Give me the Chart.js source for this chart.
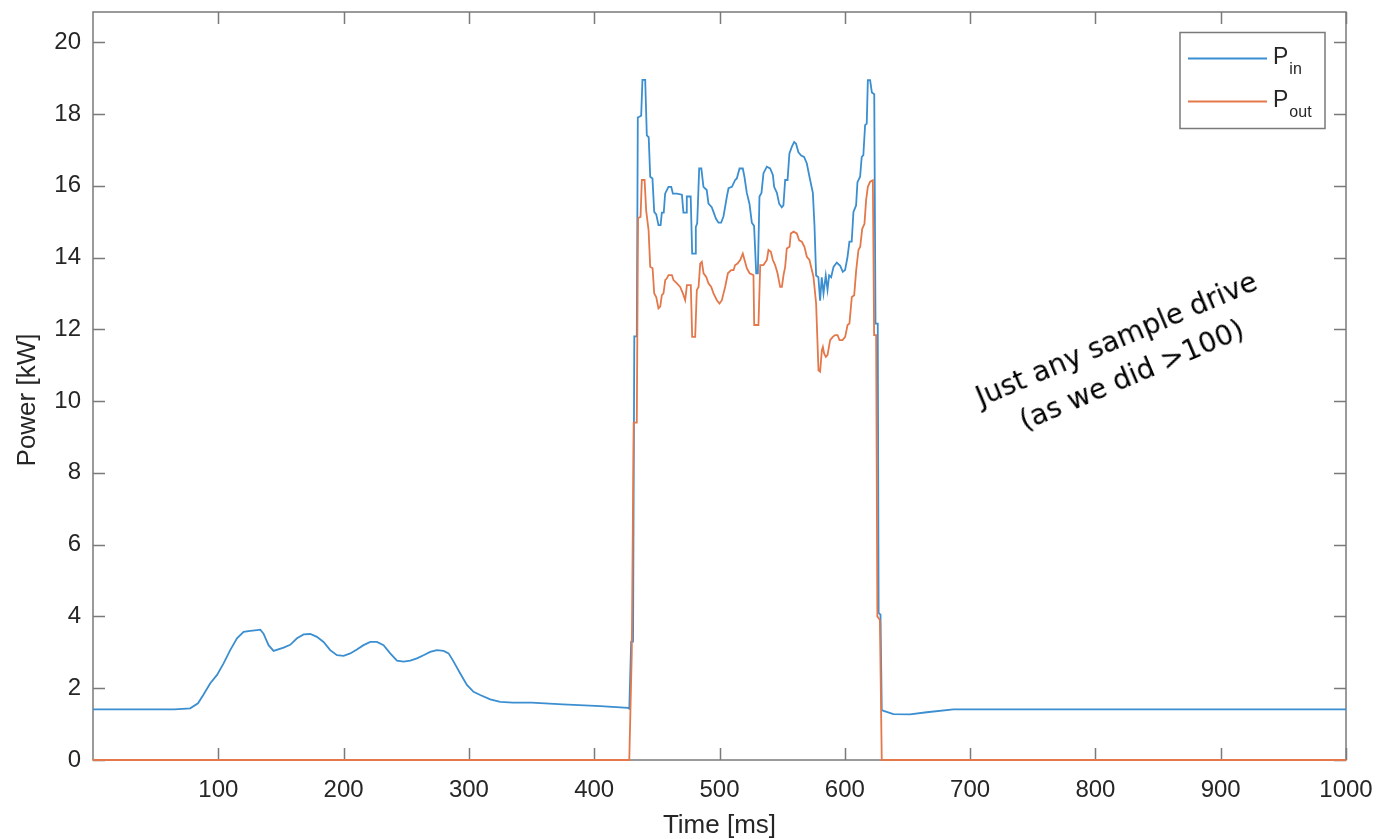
<!DOCTYPE html>
<html>
<head>
<meta charset="utf-8">
<script src="https://cdn.jsdelivr.net/npm/chart.js@4/dist/chart.umd.min.js"></script>
<style>
  html, body { margin: 0; padding: 0; background: #ffffff; }
  #wrap { position: relative; width: 1377px; height: 839px; overflow: hidden; }
  #note {
    position: absolute; left: 959px; top: 318px; width: 330px; height: 78px;
    font-family: "DejaVu Sans", Verdana, sans-serif; font-size: 28px; line-height: 39px;
    color: #000; text-align: center; white-space: nowrap;
    transform: rotate(-23deg); transform-origin: 50% 50%;
  }
</style>
</head>
<body>
<div id="wrap">
  <canvas id="c" width="1377" height="839"></canvas>
  <div id="note">Just any sample drive<br>(as we did &gt;100)</div>
</div>
<script>
// ---------------- data ----------------
const pinTime = [0,40,65,77.6,83.8,88,93.6,99,104.2,109.5,114.9,120.2,125.5,130.9,133.5,136.1,140.1,144.1,152.1,157.4,162.8,168.1,173.4,178.7,184,189.3,194.7,200,205.3,210.6,215.9,221.3,226.6,231.9,237.2,242.6,247.9,253.2,258.5,263.8,269.1,274.5,279.8,283.8,287.8,293.1,298.4,303.7,309,317,325,335,350,375,405,427,
  428,429.5,431,432,434,434.8,437.5,438.5,440.7,442,443.5,444.7,446.5,447.9,449.5,451.3,453,454,455.5,456.6,458,459.3,461.5,462.8,466,470,471.2,473.3,473.9,477,478.2,480.5,481.1,482.2,483.8,485.5,487.2,489.8,491.2,493.8,495.2,497.2,499.2,501.3,503.2,505.9,507.2,509.9,512.5,513.8,516,518.6,519.9,521.8,523.9,525.8,527.6,529.3,530.6,531.9,533.5,535.1,537.8,540.4,542.6,543.6,545.8,547.6,549.7,551,552.4,554.3,555.8,557.7,559.6,561.1,563,565.2,567.5,569.7,571.8,574.5,575.8,577.1,578.9,580.3,581.6,583,584.8,586.2,587.5,589.1,591,593.6,596.3,598.4,600.2,602.1,603.7,605.5,606.9,609,610.1,612.2,613.5,614.8,616.2,617.5,618.4,620.2,621.6,623.5,624.5,626.3,627,628.5,629.5,
  631,638.8,652,665.4,686.7,700,800,900,1000];
const pinPower = [1.41,1.41,1.41,1.44,1.58,1.81,2.14,2.37,2.69,3.06,3.39,3.57,3.6,3.62,3.63,3.52,3.2,3.04,3.13,3.21,3.39,3.5,3.51,3.43,3.29,3.06,2.92,2.9,2.97,3.08,3.2,3.29,3.29,3.2,2.97,2.77,2.74,2.77,2.83,2.92,3.01,3.06,3.04,2.97,2.74,2.41,2.09,1.9,1.81,1.69,1.62,1.6,1.6,1.55,1.5,1.45,
  1.43,3.3,3.3,11.8,11.8,17.9,17.95,18.95,18.95,17.4,17.35,16.25,16.2,15.27,15.2,14.9,14.9,15.25,15.25,15.78,15.88,15.97,15.97,15.78,15.78,15.75,15.25,15.25,15.7,15.7,14.11,14.11,14.85,14.95,16.48,16.48,15.97,15.88,15.5,15.4,15.27,15.08,14.97,14.97,15.15,15.7,15.93,15.97,16.16,16.2,16.48,16.48,16.25,15.8,15.5,14.97,14.88,13.56,13.56,15.7,15.8,16.35,16.53,16.48,16.3,15.97,15.8,15.5,15.4,15.45,16.16,16.16,16.9,17.08,17.22,17.17,16.93,16.84,16.8,16.62,16.25,15.8,14.9,13.5,13.45,12.8,13.45,13.0,13.5,13.1,13.5,13.45,13.74,13.86,13.77,13.6,13.65,14.0,14.44,14.44,15.27,15.45,16.1,16.25,16.8,16.85,17.69,17.73,18.94,18.94,18.6,18.55,12.16,12.16,4.1,4.05,1.39,
  1.37,1.28,1.27,1.33,1.41,1.41,1.41,1.41,1.41];

const poutTime = [0,428,430,431.5,434,435,437,438,440.2,441.5,443.4,444.7,446.6,447.9,449.5,451.3,452.7,454,455.3,456.7,458,459.3,462,463.3,466,468.6,470.8,472.6,474,477.1,478.2,480.6,481.9,483.3,484.6,485.9,487.3,489.4,491.2,493.4,495.2,497.9,500,501.9,503.2,504.5,506.7,509.3,511.2,512.5,514.4,516.5,518.6,520,521.8,524,527.1,527.7,531.1,532.5,535.1,537.8,539.1,541,542.6,544.4,546.3,548.4,549.8,551.1,552.4,553.7,555.9,556.9,559.1,561.7,563.6,565.7,567.8,569.7,571.8,573.7,575,577.1,579,580.3,581.7,582.5,583.5,584.9,586.2,588.3,590.4,592.3,594.2,595.8,598.2,600.3,602.2,603.7,605.6,607.5,609.1,610.9,612.3,613.9,615.7,617,618.4,620.2,622.4,623.4,625,626,628,629.5,1000];
const poutPower = [0,0,3.0,9.4,9.4,15.1,15.13,16.16,16.16,15.3,14.76,13.74,13.7,13.0,12.9,12.58,12.63,12.95,13.0,13.37,13.42,13.51,13.51,13.37,13.28,13.18,13.0,12.81,13.23,13.23,11.79,11.79,13.09,13.18,13.83,13.88,13.56,13.46,13.28,13.18,13.0,12.81,12.72,12.81,13.0,13.18,13.56,13.65,13.65,13.79,13.83,13.93,14.11,13.93,13.7,13.56,13.51,12.12,12.12,13.79,13.79,13.93,14.21,14.16,13.93,13.79,13.56,13.18,13.18,13.51,13.74,14.25,14.3,14.67,14.72,14.67,14.48,14.44,14.3,14.02,13.93,13.65,13.46,12.72,10.86,10.82,11.42,11.51,11.33,11.23,11.28,11.7,11.79,11.84,11.84,11.7,11.7,11.79,12.12,12.16,12.9,12.95,13.65,14.21,14.3,14.8,14.94,15.6,15.97,16.11,16.15,11.84,11.84,4.0,3.9,0,0];

const xTickValues = [100,200,300,400,500,600,700,800,900,1000];
const yTickValues = [0,2,4,6,8,10,12,14,16,18,20];
const seriesNames = ['P', 'P'];
const seriesSubs = ['in', 'out'];

// ---------------- styling ----------------
const BLUE = '#3b8ed0';
const ORANGE = '#e4784a';
const AXIS = '#7a7a7a';
const TEXT = '#262626';
const FONT = '"Liberation Sans", Arial, Helvetica, sans-serif';

const toXY = (ts, vs) => ts.map((t, i) => ({ x: t, y: vs[i] }));

const framePlugin = {
  id: 'frame',
  beforeDatasetsDraw(chart) {
    const { ctx, chartArea: a, scales } = chart;
    ctx.save();
    ctx.strokeStyle = AXIS;
    ctx.lineWidth = 1.5;
    ctx.strokeRect(a.left, a.top, a.right - a.left, a.bottom - a.top);
    ctx.beginPath();
    const L = 12;
    xTickValues.forEach(v => {
      const x = Math.round(scales.x.getPixelForValue(v)) + 0.5;
      ctx.moveTo(x, a.bottom); ctx.lineTo(x, a.bottom - L);
      ctx.moveTo(x, a.top); ctx.lineTo(x, a.top + L);
    });
    yTickValues.forEach(v => {
      const y = Math.round(scales.y.getPixelForValue(v)) + 0.5;
      ctx.moveTo(a.left, y); ctx.lineTo(a.left + L, y);
      ctx.moveTo(a.right, y); ctx.lineTo(a.right - L, y);
    });
    ctx.stroke();
    ctx.restore();
  },
  afterDraw(chart) {
    const { ctx } = chart;
    ctx.save();
    // y-axis title
    ctx.translate(28, 400);
    ctx.rotate(-Math.PI / 2);
    ctx.fillStyle = TEXT;
    ctx.font = '26px ' + FONT;
    ctx.textAlign = 'center';
    ctx.textBaseline = 'middle';
    ctx.fillText('Power [kW]', 0, 0);
    ctx.restore();

    // legend
    ctx.save();
    const bx = 1180, by = 32.5, bw = 145, bh = 96;
    ctx.fillStyle = '#ffffff';
    ctx.fillRect(bx, by, bw, bh);
    ctx.strokeStyle = AXIS;
    ctx.lineWidth = 1.5;
    ctx.strokeRect(bx, by, bw, bh);
    const colors = [BLUE, ORANGE];
    const rows = [58.5, 101.5];
    rows.forEach((ry, i) => {
      ctx.strokeStyle = colors[i];
      ctx.lineWidth = 1.8;
      ctx.beginPath();
      ctx.moveTo(1188, ry); ctx.lineTo(1267, ry);
      ctx.stroke();
      ctx.fillStyle = TEXT;
      ctx.textAlign = 'left';
      ctx.textBaseline = 'alphabetic';
      ctx.font = '23px ' + FONT;
      ctx.fillText(seriesNames[i], 1273, ry + 5.5);
      const pw = ctx.measureText(seriesNames[i]).width;
      ctx.font = '16px ' + FONT;
      ctx.fillText(seriesSubs[i], 1273 + pw + 1, ry + 15);
    });
    ctx.restore();
  }
};

new Chart(document.getElementById('c'), {
  type: 'line',
  data: {
    datasets: [
      { label: 'P_in', data: toXY(pinTime, pinPower), borderColor: BLUE, borderWidth: 1.8, order: 1, clip: 4 },
      { label: 'P_out', data: toXY(poutTime, poutPower), borderColor: ORANGE, borderWidth: 1.8, order: 0, clip: 4 }
    ]
  },
  options: {
    responsive: false,
    animation: false,
    parsing: false,
    normalized: true,
    elements: { point: { radius: 0 }, line: { tension: 0, fill: false } },
    layout: { padding: { left: 0, right: 31, top: 12, bottom: 0 } },
    plugins: { legend: { display: false }, tooltip: { enabled: false }, title: { display: false } },
    scales: {
      x: {
        type: 'linear', position: 'bottom', min: 0, max: 1000,
        afterBuildTicks: s => { s.ticks = xTickValues.map(v => ({ value: v })); },
        afterFit: s => { s.height = 79; s.paddingLeft = 0; s.paddingRight = 0; },
        grid: { display: false, drawTicks: false },
        border: { display: false },
        ticks: { color: TEXT, font: { family: FONT, size: 24 }, padding: 16, maxRotation: 0, autoSkip: false,
                 callback: v => String(v) },
        title: { display: true, text: 'Time [ms]', color: TEXT, font: { family: FONT, size: 26, lineHeight: 1 }, padding: { top: 0, bottom: 0 } }
      },
      y: {
        type: 'linear', position: 'left', min: 0, max: 20.84,
        afterBuildTicks: s => { s.ticks = yTickValues.map(v => ({ value: v })); },
        afterFit: s => { s.width = 93; s.paddingTop = 0; s.paddingBottom = 0; },
        grid: { display: false, drawTicks: false },
        border: { display: false },
        ticks: { color: TEXT, font: { family: FONT, size: 24 }, padding: 12, autoSkip: false,
                 callback: v => String(v) }
      }
    }
  },
  plugins: [framePlugin]
});
</script>
</body>
</html>
